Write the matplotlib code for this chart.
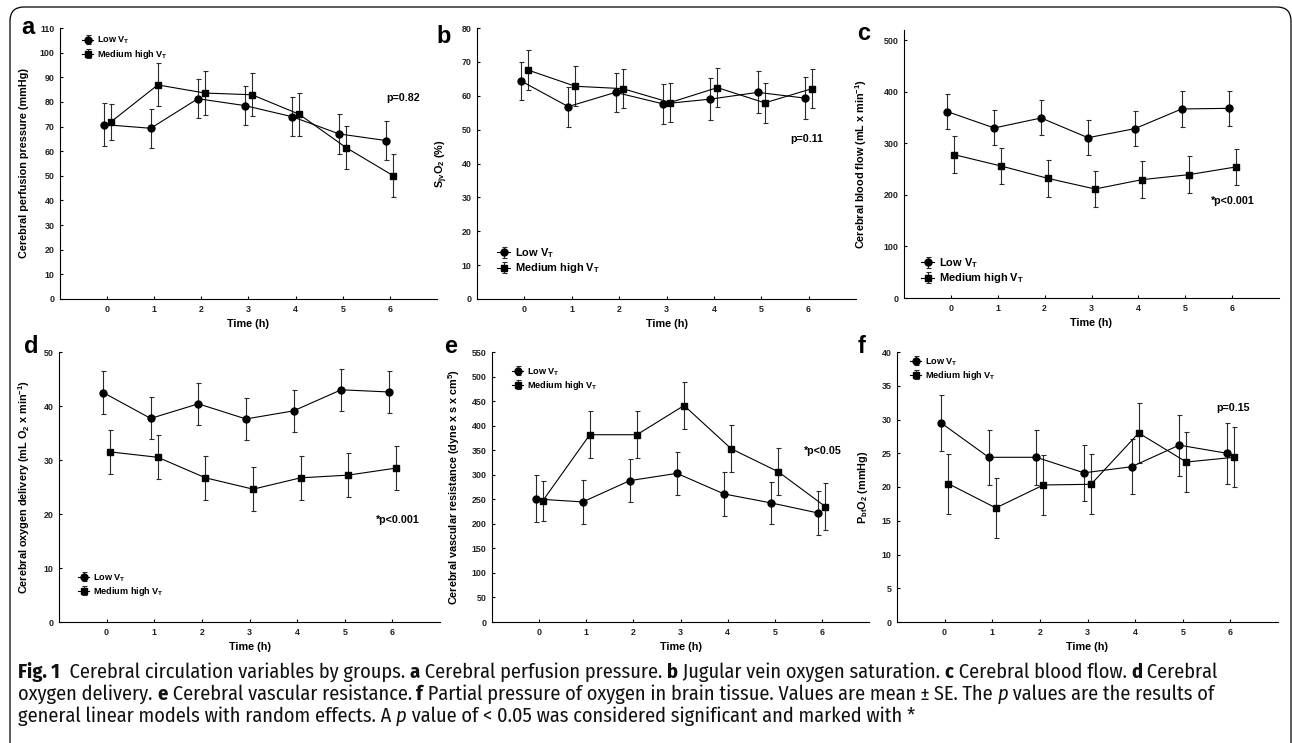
import matplotlib
matplotlib.use("Agg")
import matplotlib.pyplot as plt
from matplotlib.patches import FancyBboxPatch
from matplotlib.transforms import IdentityTransform
from matplotlib import font_manager
import numpy as np

# ---- data (mean and SE) ----
time_h = [0, 1, 2, 3, 4, 5, 6]

cpp_low = [70.8, 69.3, 81.3, 78.5, 74.0, 67.0, 64.3]
cpp_low_se = [8.6, 8.0, 8.0, 8.0, 8.0, 8.0, 8.0]
cpp_med = [71.8, 86.9, 83.6, 82.9, 75.0, 61.4, 50.0]
cpp_med_se = [7.4, 8.7, 8.8, 8.8, 8.7, 8.8, 8.7]

sjv_low = [64.4, 56.8, 61.0, 57.6, 59.0, 61.0, 59.3]
sjv_low_se = [5.6, 5.9, 5.8, 5.9, 6.1, 6.2, 6.2]
sjv_med = [67.6, 62.8, 62.1, 58.0, 62.4, 57.9, 62.1]
sjv_med_se = [5.8, 5.85, 5.85, 5.85, 5.8, 5.85, 5.85]

cbf_low = [361.6, 329.9, 349.3, 311.0, 328.6, 366.8, 368.0]
cbf_low_se = [33.6, 34.0, 34.0, 34.3, 33.8, 34.3, 34.0]
cbf_med = [278.0, 256.0, 232.0, 211.5, 229.6, 239.3, 254.2]
cbf_med_se = [35.5, 35.3, 35.4, 35.5, 35.3, 35.6, 35.6]

cdo_low = [42.5, 37.7, 40.4, 37.6, 39.1, 43.0, 42.6]
cdo_low_se = [3.9, 3.9, 3.9, 3.9, 3.9, 3.9, 3.9]
cdo_med = [31.5, 30.5, 26.7, 24.6, 26.7, 27.2, 28.5]
cdo_med_se = [4.1, 4.1, 4.1, 4.1, 4.1, 4.1, 4.1]

cvr_low = [250.7, 244.6, 288.0, 302.8, 260.8, 242.5, 222.0]
cvr_low_se = [48.0, 44.0, 44.0, 44.0, 44.0, 43.5, 44.0]
cvr_med = [246.6, 381.5, 381.5, 441.0, 353.0, 306.0, 235.0]
cvr_med_se = [40.8, 48.0, 48.0, 48.0, 48.0, 48.0, 48.0]

pbt_low = [29.5, 24.4, 24.4, 22.1, 23.0, 26.2, 25.0]
pbt_low_se = [4.1, 4.1, 4.1, 4.1, 4.05, 4.5, 4.5]
pbt_med = [20.5, 16.9, 20.3, 20.4, 28.0, 23.7, 24.4]
pbt_med_se = [4.45, 4.5, 4.45, 4.45, 4.5, 4.45, 4.45]

W, H = 1292, 743

avail = {f.name for f in font_manager.fontManager.ttflist}
axis_font = "Liberation Sans" if "Liberation Sans" in avail else "DejaVu Sans"
cap_font = axis_font
for name in ["Fira Sans Condensed", "PT Sans Narrow", "Open Sans Condensed",
             "Encode Sans Condensed", "Roboto Condensed", "Archivo Narrow",
             "Liberation Sans Narrow", "IBM Plex Sans Condensed", "Asap Condensed"]:
    if name in avail:
        cap_font = name
        break
cap_light = cap_font + " Light" if cap_font + " Light" in avail else cap_font

plt.rcParams["font.family"] = [axis_font, "DejaVu Sans"]
plt.rcParams["mathtext.fontset"] = "custom"
plt.rcParams["mathtext.rm"] = axis_font + ":bold"
plt.rcParams["mathtext.bf"] = axis_font + ":bold"
plt.rcParams["mathtext.it"] = axis_font + ":bold:italic"

fig = plt.figure(figsize=(W / 100, H / 100), dpi=100)


def px_axes(left, top, right, bottom):
    return fig.add_axes([left / W, 1 - bottom / H, (right - left) / W, (bottom - top) / H])


def panel(ax, low, low_se, med, med_se, ylim, yticks, ylabel, label_x, leg, leg_size,
          ptext, pxy, letter, letter_xy):
    t = np.array(time_h)
    ax.errorbar(t - 0.075, low, yerr=low_se, fmt="-o", color="black", ms=5, lw=0.8,
                elinewidth=0.8, ecolor="#2a2a2a", capsize=1.8, capthick=0.8,
                label=r"Low V$_\mathrm{T}$")
    ax.errorbar(t + 0.075, med, yerr=med_se, fmt="-s", color="black", ms=5, lw=0.8,
                elinewidth=0.8, ecolor="#2a2a2a", capsize=1.8, capthick=0.8,
                label=r"Medium high V$_\mathrm{T}$")
    ax.set_xlim(-1, 7)
    ax.set_ylim(*ylim)
    ax.set_xticks(time_h)
    ax.set_yticks(yticks)
    for s in ["top", "right"]:
        ax.spines[s].set_visible(False)
    for s in ["left", "bottom"]:
        ax.spines[s].set_linewidth(0.8)
    ax.tick_params(direction="in", length=2.5, width=0.8, labelsize=6.4, pad=4)
    for lab in ax.get_xticklabels() + ax.get_yticklabels():
        lab.set_fontweight("bold")
        lab.set_color("#222222")
    ax.set_xlabel("Time (h)", fontsize=7.8, fontweight="bold", labelpad=4)
    ax.set_ylabel(ylabel, fontsize=7.8, fontweight="bold")
    bb = ax.get_position()
    ax.yaxis.set_label_coords((label_x / W - bb.x0) / bb.width, 0.5)
    ax.legend(loc="upper left", bbox_to_anchor=leg, bbox_transform=fig.transFigure,
              frameon=False, prop={"weight": "bold", "size": leg_size},
              handlelength=1.2, handletextpad=0.4, labelspacing=0.15, borderpad=0,
              borderaxespad=0)
    ax.text(pxy[0], pxy[1], ptext, fontsize=7.7, fontweight="bold", ha="center", va="center")
    fig.text(letter_xy[0] / W, 1 - letter_xy[1] / H, letter, fontsize=17, fontweight="bold",
             ha="left", va="baseline")


ax_a = px_axes(60, 28, 437, 299)
panel(ax_a, cpp_low, cpp_low_se, cpp_med, cpp_med_se, (0, 110), range(0, 111, 10),
      "Cerebral perfusion pressure (mmHg)", 29, (82 / W, 1 - 35 / H), 6.6,
      "p=0.82", (6.28, 81.6), "a", (21, 34))

ax_b = px_axes(477, 28, 856, 299)
panel(ax_b, sjv_low, sjv_low_se, sjv_med, sjv_med_se, (0, 80), range(0, 81, 10),
      r"S$_\mathrm{jv}$O$_\mathrm{2}$ (%)", 450, (497 / W, 1 - 246 / H), 7.9,
      "p=0.11", (5.96, 47.2), "b", (436, 43))

ax_c = px_axes(904, 30, 1279, 298)
panel(ax_c, cbf_low, cbf_low_se, cbf_med, cbf_med_se, (0, 520), range(0, 501, 100),
      r"Cerebral blood flow (mL x min$^\mathrm{-1}$)", 869, (921 / W, 1 - 256 / H), 7.9,
      "*p<0.001", (6.01, 188), "c", (857, 40))

ax_d = px_axes(59, 352, 440, 622)
panel(ax_d, cdo_low, cdo_low_se, cdo_med, cdo_med_se, (0, 50), range(0, 51, 10),
      r"Cerebral oxygen delivery (mL O$_\mathrm{2}$ x min$^\mathrm{-1}$)", 32,
      (78 / W, 1 - 572 / H), 6.6, "*p<0.001", (6.12, 18.9), "d", (24, 353))

ax_e = px_axes(492, 352, 869, 622)
panel(ax_e, cvr_low, cvr_low_se, cvr_med, cvr_med_se, (0, 550), range(0, 551, 50),
      r"Cerebral vascular resistance (dyne x s x cm$^\mathrm{5}$)", 462,
      (512 / W, 1 - 366 / H), 6.6, "*p<0.05", (6.02, 348), "e", (444, 353))

ax_f = px_axes(897, 352, 1278, 622)
panel(ax_f, pbt_low, pbt_low_se, pbt_med, pbt_med_se, (0, 40), range(0, 41, 5),
      r"P$_\mathrm{bt}$O$_\mathrm{2}$ (mmHg)", 870, (910 / W, 1 - 356 / H), 6.6,
      "p=0.15", (6.05, 31.7), "f", (858, 353))

# ---- rounded frame around the figure ----
frame = FancyBboxPatch((10, -40), 1281, H - 7 + 40, boxstyle="round,pad=0,rounding_size=14",
                       transform=IdentityTransform(), fill=False, lw=0.9, ec="black",
                       clip_on=False)
fig.patches.append(frame)

# ---- caption ----
caption = [
    [("Fig. 1", "bold"), ("  Cerebral circulation variables by groups. ", "normal"),
     ("a", "bold"), (" Cerebral perfusion pressure. ", "normal"), ("b", "bold"),
     (" Jugular vein oxygen saturation. ", "normal"), ("c", "bold"),
     (" Cerebral blood flow. ", "normal"), ("d", "bold"), (" Cerebral", "normal")],
    [("oxygen delivery. ", "normal"), ("e", "bold"),
     (" Cerebral vascular resistance. ", "normal"), ("f", "bold"),
     (" Partial pressure of oxygen in brain tissue. Values are mean\u2009\u00b1\u2009SE. The ", "normal"),
     ("p", "italic"), (" values are the results of", "normal")],
    [("general linear models with random effects. A ", "normal"), ("p", "italic"),
     (" value of < 0.05 was considered significant and marked with *", "normal")],
]
baselines = [678, 700, 722]
target_widths = [1237, 1200, 859]
renderer = fig.canvas.get_renderer()


def draw_line(pieces, x0, base, size):
    x = x0
    made = []
    for s, style in pieces:
        kw = dict(fontsize=size, family=[cap_light, "DejaVu Sans"], color="#111111",
                  va="baseline", ha="left")
        if style == "bold":
            kw["family"] = [cap_font, "DejaVu Sans"]
            kw["fontweight"] = "bold"
        if style == "italic":
            kw["fontstyle"] = "italic"
        t = fig.text(x / W, 1 - base / H, s, **kw)
        made.append(t)
        x = t.get_window_extent(renderer).x1
    return x - x0, made


# fit the caption size so that the lines span about the same widths as the original
total = 0
for line in caption:
    w, tmp = draw_line(line, 0, -100, 10)
    total += w
    for t in tmp:
        t.remove()
cap_size = 10 * sum(target_widths) / total
for line, base in zip(caption, baselines):
    draw_line(line, 18, base, cap_size)

fig.savefig("out.png", dpi=100)
